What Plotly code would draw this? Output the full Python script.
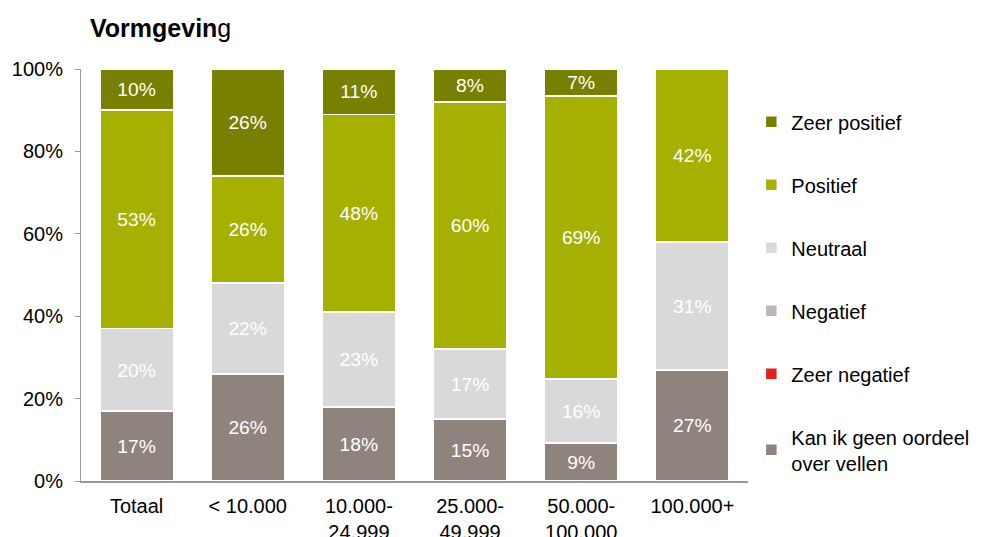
import plotly.graph_objects as go

categories = ["Totaal", "< 10.000", "10.000-<br>24.999", "25.000-<br>49.999", "50.000-<br>100.000", "100.000+"]

kan_ik_geen = [17, 26, 18, 15, 9.2, 27]
zeer_negatief = [0, 0, 0, 0, 0, 0]
negatief = [0, 0, 0, 0, 0, 0]
neutraal = [20, 22, 23, 17, 15.6, 31]
positief = [53, 26, 48, 60, 68.6, 42]
zeer_positief = [10, 26, 11, 8, 6.6, 0]

series = [
    ("Kan ik geen oordeel<br>over vellen", kan_ik_geen, "#8f837d"),
    ("Zeer negatief", zeer_negatief, "#e2231a"),
    ("Negatief", negatief, "#bfb7b3"),
    ("Neutraal", neutraal, "#d9d9d9"),
    ("Positief", positief, "#a5b000"),
    ("Zeer positief", zeer_positief, "#788000"),
]

FONT = "Liberation Sans, Arial, sans-serif"
W, H = 974, 529  # page body adds an 8px offset

fig = go.Figure()
n = len(series)
for i, (name, vals, color) in enumerate(series):
    fig.add_trace(go.Bar(
        x=categories, y=vals, name=name,
        marker=dict(color=color, line=dict(color="white", width=1.5)),
        text=[f"{round(v):d}%" if v > 0 else "" for v in vals],
        textposition="inside", insidetextanchor="middle",
        textfont=dict(color="white", size=20, family=FONT),
        legendgroup=f"g{i}", legendrank=n - i,
        hoverinfo="skip",
    ))

fig.update_layout(
    width=W, height=H,
    barmode="stack", bargap=0.34,
    plot_bgcolor="white", paper_bgcolor="white",
    margin=dict(l=73, r=234, t=61, b=56, autoexpand=False),
    font=dict(family=FONT, size=20, color="black"),
    title=dict(text="<b>Vormgevin</b>g", x=82/W, xanchor="left",
               y=1-20/H, yanchor="middle",
               font=dict(size=25, family=FONT, color="black")),
    uniformtext=dict(mode="show", minsize=10),
    legend=dict(x=1.005, xanchor="left", y=0.919, yanchor="top",
                traceorder="grouped", tracegroupgap=34,
                font=dict(size=20, family=FONT), bgcolor="rgba(0,0,0,0)"),
    showlegend=True,
)
fig.update_yaxes(range=[0, 100], tickvals=[0, 20, 40, 60, 80, 100],
                 ticktext=["0%", "20%", "40%", "60%", "80%", "100%"],
                 showline=True, linecolor="#999999", linewidth=1,
                 ticks="outside", ticklen=5, tickcolor="#999999",
                 showgrid=False, zeroline=False, ticklabelstandoff=8,
                 automargin=False)
fig.update_xaxes(showline=True, linecolor="#999999", linewidth=1.5,
                 ticks="", showgrid=False, ticklabelstandoff=6,
                 automargin=False)

fig.write_html("out.html")
